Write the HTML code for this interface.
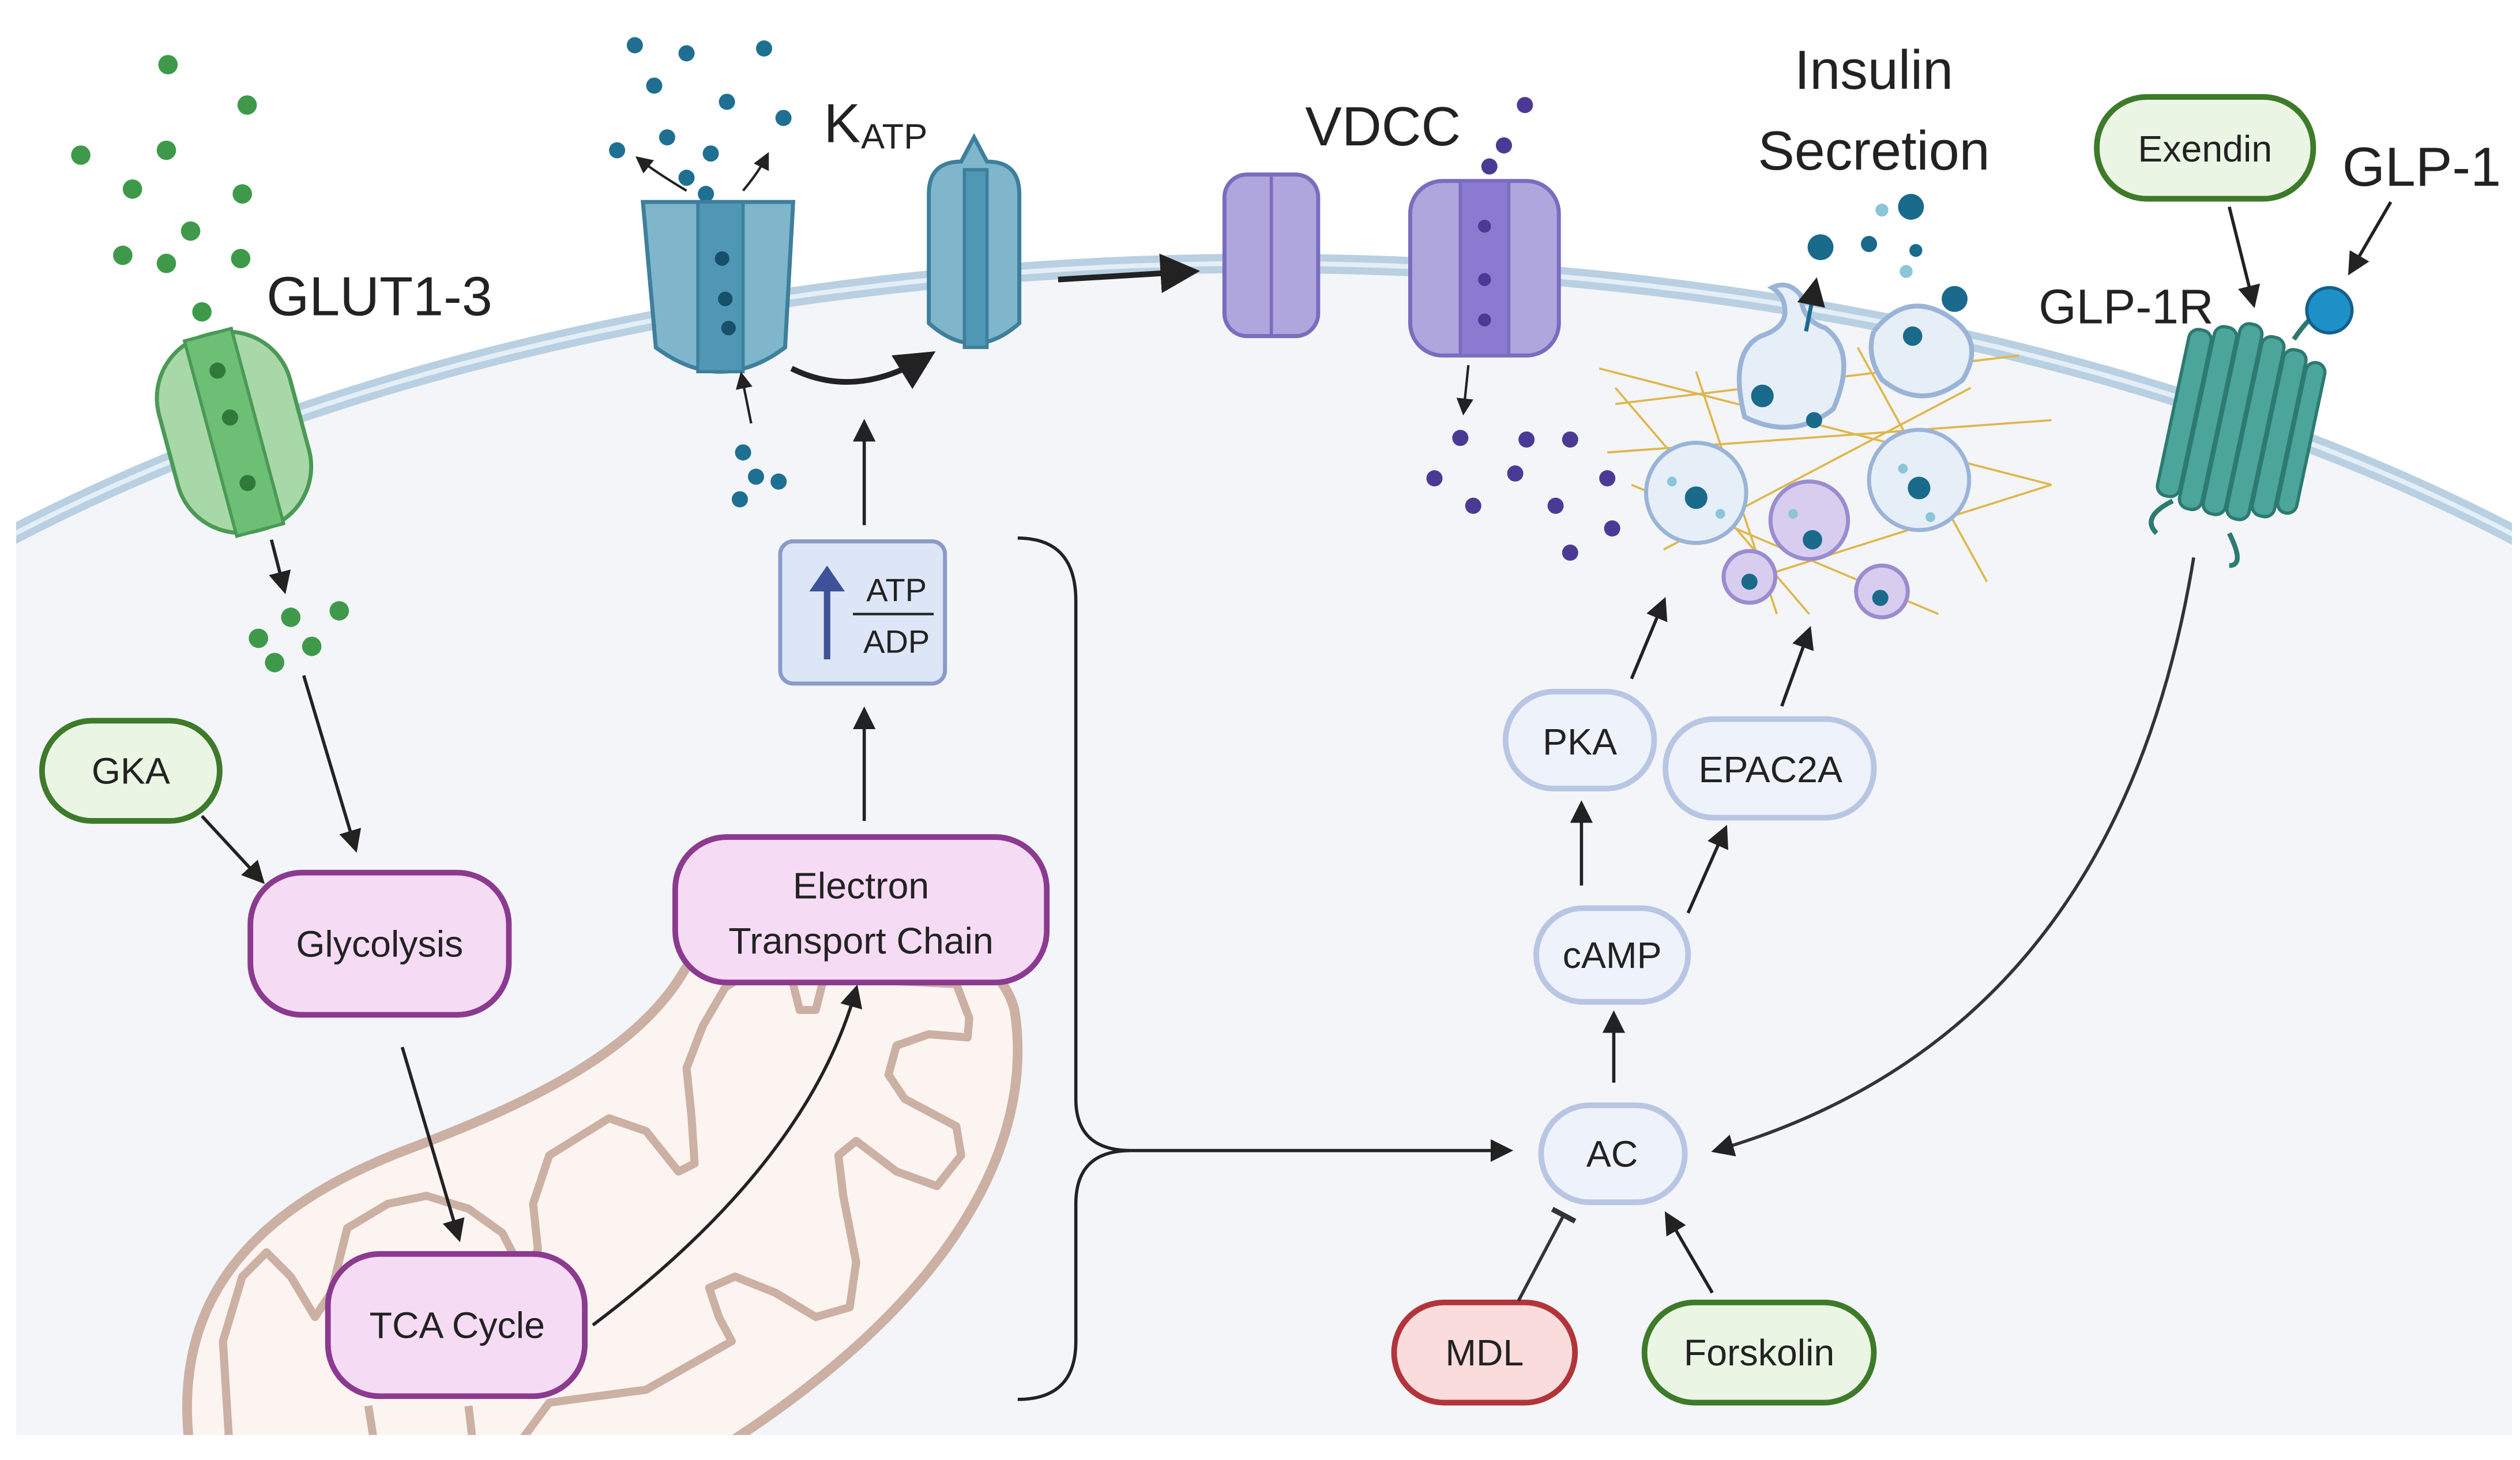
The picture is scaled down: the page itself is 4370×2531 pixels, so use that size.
<!DOCTYPE html>
<html><head><meta charset="utf-8"><style>
html,body{margin:0;padding:0;background:#fff;overflow:hidden;width:4370px;height:2531px;position:relative}
svg{display:block;position:absolute;left:0;top:0}
text{font-family:"Liberation Sans",Arial,sans-serif;fill:#222}
</style></head><body>
<svg width="4370" height="2531" viewBox="0 0 1560 903.5" preserveAspectRatio="none" xmlns="http://www.w3.org/2000/svg">
<defs>
<marker id="ah" viewBox="0 0 10 10" refX="8" refY="5" markerWidth="7" markerHeight="7" orient="auto-start-reverse"><path d="M0,0 L10,5 L0,10 z" fill="#222"/></marker>
<marker id="tb" viewBox="0 0 10 10" refX="5" refY="5" markerWidth="8" markerHeight="8" orient="auto"><path d="M5,0 L5,10" stroke="#333" stroke-width="2"/></marker>
<clipPath id="cell"><rect x="10" y="0" width="1545" height="888"/></clipPath>
</defs>
<rect width="1560" height="903" fill="#fff"/>
<g clip-path="url(#cell)">
<ellipse cx="782" cy="743" rx="1100" ry="580" fill="#f3f5f8"/>
<ellipse cx="782" cy="743" rx="1100" ry="580" fill="none" stroke="#b9d0e2" stroke-width="12"/>
<ellipse cx="782" cy="743" rx="1100" ry="580" fill="none" stroke="#e4eef6" stroke-width="3"/>
<path d="M118,900 C105,810 150,750 253,711 C330,682 395,650 424,600 C450,560 610,555 628,625 C640,700 600,800 440,900 Z" fill="#fbf4f0" stroke="#cbb0a3" stroke-width="6"/>
<polyline points="142,895 138,830 150,790 165,775 180,790 195,815 205,800 215,760 240,745 264,740 290,748 311,763 325,790 333,773 330,745 340,715 377,692 400,700 420,725 430,720 428,690 425,661 435,635 449,611 470,598 490,605 495,625 505,625 510,605 592,609 600,630 599,642 575,640 555,647 550,665 560,680 592,697 595,715 580,734 555,725 530,706 519,715 522,740 530,781 526,809 505,815 480,800 455,790 439,797 445,815 453,830 400,860 340,868 320,895" fill="none" stroke="#cbb0a3" stroke-width="5" stroke-linejoin="round"/>
<path d="M228,870 L232,895 M290,870 L293,895" stroke="#cbb0a3" stroke-width="5"/>
</g>
<g fill="#3e9a4a">
<circle cx="104" cy="40" r="6"/><circle cx="153" cy="65" r="6"/><circle cx="50" cy="96" r="6"/><circle cx="103" cy="93" r="6"/><circle cx="82" cy="117" r="6"/><circle cx="150" cy="120" r="6"/><circle cx="118" cy="143" r="6"/><circle cx="76" cy="158" r="6"/><circle cx="103" cy="163" r="6"/><circle cx="149" cy="160" r="6"/><circle cx="125" cy="193" r="6"/>
<circle cx="160" cy="395" r="6"/><circle cx="180" cy="382" r="6"/><circle cx="210" cy="378" r="6"/><circle cx="170" cy="410" r="6"/><circle cx="193" cy="400" r="6"/>
</g>
<g transform="rotate(-15 145 268)">
<rect x="103" y="205" width="84" height="125" rx="40" fill="#a8d8a8" stroke="#4a9a56" stroke-width="2.5"/>
<rect x="130" y="205" width="30" height="125" fill="#6cbf74" stroke="#4a9a56" stroke-width="2"/>
<circle cx="145" cy="228" r="5" fill="#2f7a3a"/><circle cx="145" cy="258" r="5" fill="#2f7a3a"/><circle cx="145" cy="300" r="5" fill="#2f7a3a"/>
</g>
<text x="165" y="195" font-size="34">GLUT1-3</text>
<g fill="#1f6f93">
<circle cx="393" cy="28" r="5"/><circle cx="425" cy="33" r="5"/><circle cx="473" cy="30" r="5"/><circle cx="405" cy="53" r="5"/><circle cx="450" cy="63" r="5"/><circle cx="382" cy="93" r="5"/><circle cx="413" cy="85" r="5"/><circle cx="440" cy="95" r="5"/><circle cx="485" cy="73" r="5"/><circle cx="425" cy="110" r="5"/><circle cx="437" cy="120" r="5"/>
<circle cx="460" cy="280" r="5"/><circle cx="482" cy="298" r="5"/><circle cx="468" cy="295" r="5"/><circle cx="458" cy="309" r="5"/>
</g>
<path d="M398,125 h93 l-5,90 q-40,30 -80,0 z" fill="#7fb6cc" stroke="#3e7f9c" stroke-width="2.5"/>
<rect x="432" y="125" width="28" height="105" fill="#4f97b4" stroke="#3e7f9c" stroke-width="2"/>
<circle cx="447" cy="160" r="4.5" fill="#16506b"/><circle cx="449" cy="185" r="4.5" fill="#16506b"/><circle cx="451" cy="203" r="4.5" fill="#16506b"/>
<path d="M575,120 q0,-20 20,-20 l8,-15 l8,15 q20,0 20,20 v80 q-28,25 -56,0 z" fill="#7fb6cc" stroke="#3e7f9c" stroke-width="2.5"/>
<rect x="597" y="105" width="14" height="110" fill="#4f97b4" stroke="#3e7f9c" stroke-width="2"/>
<path d="M425,118 q-20,-12 -30,-20" stroke="#222" stroke-width="1.5" fill="none" marker-end="url(#ah)"/>
<path d="M460,118 q10,-12 15,-22" stroke="#222" stroke-width="1.5" fill="none" marker-end="url(#ah)"/>
<path d="M465,262 l-6,-30" stroke="#222" stroke-width="1.5" marker-end="url(#ah)"/>
<path d="M490,228 q40,20 85,-8" stroke="#222" stroke-width="3.5" fill="none" marker-end="url(#ah)"/>
<text x="510" y="88" font-size="34">K</text><text x="533" y="92" font-size="22">ATP</text>
<line x1="655" y1="173" x2="738" y2="168" stroke="#222" stroke-width="3.5" marker-end="url(#ah)"/>
<rect x="758" y="108" width="58" height="100" rx="14" fill="#b0a6de" stroke="#7a6cbe" stroke-width="2.5"/>
<line x1="787" y1="108" x2="787" y2="208" stroke="#7a6cbe" stroke-width="2"/>
<rect x="873" y="112" width="92" height="108" rx="20" fill="#b0a6de" stroke="#7a6cbe" stroke-width="2.5"/>
<rect x="904" y="112" width="30" height="108" fill="#8b7bd0" stroke="#7a6cbe" stroke-width="2"/>
<g fill="#4b3a95"><circle cx="919" cy="140" r="4"/><circle cx="919" cy="173" r="4"/><circle cx="919" cy="198" r="4"/>
<circle cx="944" cy="65" r="5"/><circle cx="931" cy="90" r="5"/><circle cx="922" cy="103" r="5"/>
<circle cx="904" cy="271" r="5"/><circle cx="945" cy="272" r="5"/><circle cx="972" cy="272" r="5"/><circle cx="888" cy="296" r="5"/><circle cx="938" cy="293" r="5"/><circle cx="995" cy="296" r="5"/><circle cx="912" cy="313" r="5"/><circle cx="963" cy="313" r="5"/><circle cx="998" cy="327" r="5"/><circle cx="972" cy="342" r="5"/></g>
<line x1="909" y1="226" x2="906" y2="255" stroke="#222" stroke-width="1.5" marker-end="url(#ah)"/>
<text x="808" y="90" font-size="34">VDCC</text>
<g stroke="#e0b64a" stroke-width="1.3" fill="none">
<path d="M990,228 L1270,300 M1000,250 L1250,220 M1010,300 L1200,380 M1050,230 L1100,380 M1150,215 L1230,360 M995,280 L1270,260 M1030,340 L1220,240 M1080,360 L1270,300 M1000,240 L1120,380"/>
</g>
<path d="M1080,258 q-10,-40 10,-50 q15,-5 15,-15 q0,-10 -8,-15 q10,-5 18,5 q0,15 15,20 q20,15 5,50 q-25,20 -55,5 z" fill="#e6eef8" stroke="#9ab4d8" stroke-width="3"/>
<path d="M1160,205 q20,-25 45,-10 q25,15 10,40 q-25,20 -50,0 q-10,-15 -5,-30" fill="#e6eef8" stroke="#9ab4d8" stroke-width="3"/>
<g fill="#e6eef8" stroke="#9ab4d8" stroke-width="2.5">
<circle cx="1050" cy="305" r="31"/><circle cx="1188" cy="297" r="31"/><circle cx="1120" cy="322" r="24" fill="#d8cdef" stroke="#9a8ccf"/><circle cx="1083" cy="357" r="16" fill="#d8cdef" stroke="#9a8ccf"/><circle cx="1165" cy="366" r="16" fill="#d8cdef" stroke="#9a8ccf"/></g>
<g fill="#1a6a8c"><circle cx="1050" cy="308" r="7"/><circle cx="1188" cy="302" r="7"/><circle cx="1122" cy="334" r="6"/><circle cx="1083" cy="360" r="5"/><circle cx="1164" cy="370" r="5"/><circle cx="1091" cy="245" r="7"/><circle cx="1123" cy="260" r="5"/><circle cx="1184" cy="208" r="6"/>
<circle cx="1127" cy="153" r="8"/><circle cx="1183" cy="128" r="8"/><circle cx="1210" cy="185" r="8"/><circle cx="1157" cy="151" r="5"/><circle cx="1186" cy="155" r="4"/></g>
<g fill="#8cc4d8"><circle cx="1165" cy="130" r="4"/><circle cx="1180" cy="168" r="4"/><circle cx="1035" cy="298" r="3"/><circle cx="1065" cy="318" r="3"/><circle cx="1178" cy="290" r="3"/><circle cx="1195" cy="320" r="3"/><circle cx="1110" cy="318" r="3"/></g>
<line x1="1118" y1="205" x2="1124" y2="175" stroke="#1a6a8c" stroke-width="2.5" marker-end="url(#ah)"/>
<text x="1160" y="55" font-size="34" text-anchor="middle">Insulin</text>
<text x="1160" y="105" font-size="34" text-anchor="middle">Secretion</text>
<g transform="rotate(12 1385 260)">
<g fill="#4ba59a" stroke="#2c7a70" stroke-width="2">
<rect x="1345" y="210" width="14" height="105" rx="6"/><rect x="1360" y="205" width="14" height="115" rx="6"/><rect x="1375" y="200" width="14" height="120" rx="6"/><rect x="1390" y="205" width="14" height="115" rx="6"/><rect x="1405" y="210" width="14" height="105" rx="6"/><rect x="1420" y="215" width="12" height="95" rx="6"/></g>
</g>
<path d="M1345,310 q-20,10 -10,20 M1380,330 q10,20 0,20 M1420,210 q10,-15 20,-20" stroke="#2c7a70" stroke-width="3" fill="none"/>
<circle cx="1442" cy="192" r="14" fill="#1e90c8" stroke="#14608a" stroke-width="2"/>
<text x="1262" y="200" font-size="30">GLP-1R</text>
<text x="1450" y="115" font-size="34">GLP-1</text>
<line x1="1480" y1="125" x2="1455" y2="168" stroke="#222" stroke-width="2" marker-end="url(#ah)"/>
<line x1="1380" y1="128" x2="1395" y2="188" stroke="#222" stroke-width="2" marker-end="url(#ah)"/>
<path d="M1358,345 Q1310,640 1062,712" stroke="#333" stroke-width="2" fill="none" marker-end="url(#ah)"/>
<g stroke-width="3.5">
<rect x="26" y="446" width="110" height="62" rx="31" fill="#eaf5e4" stroke="#3d7a2a"/>
<rect x="1298" y="60" width="134" height="63" rx="31" fill="#eaf5e4" stroke="#3d7a2a"/>
<rect x="1018" y="806" width="142" height="62" rx="31" fill="#eaf5e4" stroke="#3d7a2a"/>
<rect x="863" y="806" width="112" height="62" rx="31" fill="#fadcdc" stroke="#b2343a"/>
<rect x="155" y="540" width="160" height="88" rx="32" fill="#f6dbf4" stroke="#8b3a8f"/>
<rect x="203" y="776" width="159" height="88" rx="32" fill="#f6dbf4" stroke="#8b3a8f"/>
<rect x="418" y="518" width="230" height="90" rx="32" fill="#f6dbf4" stroke="#8b3a8f"/>
</g>
<g stroke="#b8c6e4" stroke-width="3.5" fill="#eef2fb">
<rect x="932" y="428" width="92" height="60" rx="30"/>
<rect x="1031" y="445" width="129" height="61" rx="30"/>
<rect x="951" y="562" width="94" height="58" rx="29"/>
<rect x="954" y="684" width="89" height="60" rx="30"/>
</g>
<rect x="483" y="335" width="102" height="88" rx="8" fill="#dde6f7" stroke="#8a9bc8" stroke-width="2.5"/>
<path d="M510,408 v-42 h-9 l11,-16 l11,16 h-9 v42 z" fill="#3d5298"/>
<line x1="528" y1="380" x2="578" y2="380" stroke="#222" stroke-width="1.5"/>
<text x="555" y="372" font-size="20" text-anchor="middle">ATP</text>
<text x="555" y="404" font-size="20" text-anchor="middle">ADP</text>
<g font-size="23" text-anchor="middle">
<text x="81" y="485">GKA</text>
<text x="1365" y="100">Exendin</text>
<text x="1089" y="845">Forskolin</text>
<text x="919" y="845">MDL</text>
<text x="235" y="592">Glycolysis</text>
<text x="283" y="828">TCA Cycle</text>
<text x="533" y="556">Electron</text>
<text x="533" y="590">Transport Chain</text>
<text x="978" y="467">PKA</text>
<text x="1096" y="484">EPAC2A</text>
<text x="998" y="599">cAMP</text>
<text x="998" y="722">AC</text>
</g>
<g stroke="#222" stroke-width="2" fill="none" marker-end="url(#ah)">
<line x1="168" y1="334" x2="176" y2="365"/>
<line x1="188" y1="418" x2="220" y2="525"/>
<line x1="125" y1="505" x2="162" y2="545"/>
<line x1="249" y1="648" x2="284" y2="766"/>
<path d="M367,820 Q500,720 530,612"/>
<line x1="535" y1="508" x2="535" y2="440"/>
<line x1="535" y1="325" x2="535" y2="262"/>
<line x1="999" y1="670" x2="999" y2="628"/>
<line x1="979" y1="548" x2="979" y2="498"/>
<line x1="1045" y1="565" x2="1068" y2="513"/>
<line x1="1010" y1="420" x2="1030" y2="372"/>
<line x1="1103" y1="437" x2="1120" y2="390"/>
<line x1="1060" y1="800" x2="1032" y2="752"/>
</g>
<line x1="940" y1="805" x2="968" y2="752" stroke="#333" stroke-width="2" marker-end="url(#tb)"/>
<path d="M630,333 Q666,333 666,372 V680 Q666,712 700,712 Q666,712 666,745 V830 Q666,866 630,866" stroke="#222" stroke-width="2" fill="none"/>
<line x1="700" y1="712" x2="934" y2="712" stroke="#222" stroke-width="2" marker-end="url(#ah)"/>
</svg>
</body></html>
